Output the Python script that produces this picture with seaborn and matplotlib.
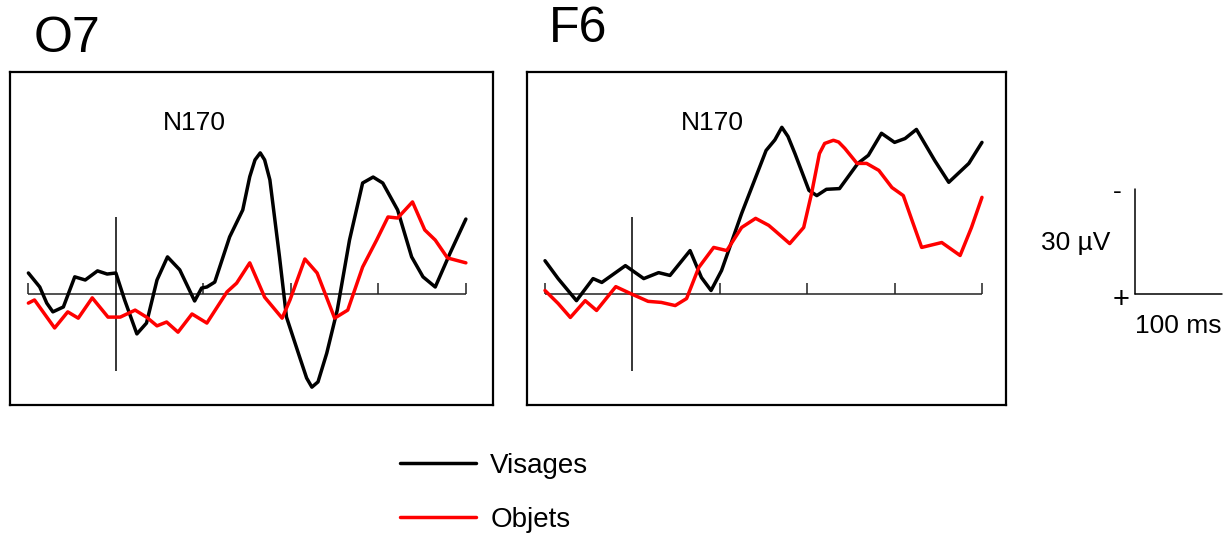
import numpy as np
import pandas as pd
import matplotlib
matplotlib.use("Agg")
import matplotlib.pyplot as plt
import seaborn as sns

# ERP waveforms, values in microvolts (negative plotted upward), time in ms
o7_vis_t = [-100, -87, -79, -72, -60, -47, -35, -21, -10, 0, 10, 24, 35, 47, 59, 73, 90, 98, 104,
            113, 130, 145, 153, 159, 165, 170, 176, 187, 195, 210, 218, 224, 231, 241, 253, 267,
            282, 294, 305, 322, 338, 351, 365, 382, 400]
o7_vis_v = [-6.0, -2.0, 2.6, 5.1, 3.7, -4.9, -4.0, -6.6, -5.7, -6.0, 1.7, 11.4, 8.3, -4.0, -10.6,
            -6.9, 2.0, -1.7, -2.0, -3.4, -16.3, -24.0, -33.5, -38.3, -40.3, -38.3, -32.6, -10.6,
            6.6, 18.0, 24.0, 26.6, 25.1, 16.9, 4.6, -15.4, -31.7, -33.4, -31.7, -24.0, -10.6,
            -4.9, -2.0, -11.7, -21.4]

o7_obj_t = [-100, -93, -70, -55, -43, -27, -9, 5, 22, 35, 47, 58, 71, 87, 104, 127, 138, 153,
            170, 190, 199, 216, 230, 250, 265, 282, 298, 311, 322, 339, 353, 365, 379, 400]
o7_obj_v = [2.6, 1.7, 9.7, 5.1, 6.9, 1.1, 6.6, 6.6, 4.6, 6.6, 9.1, 8.0, 10.9, 5.7, 8.3, -0.6,
            -3.1, -8.9, 0.9, 6.9, 1.7, -10.0, -6.0, 6.9, 4.6, -7.7, -15.4, -22.0, -21.7, -26.3,
            -18.3, -15.4, -10.3, -8.9]

f6_vis_t = [-100, -85, -64, -45, -35, -8, 13, 30, 43, 66, 79, 90, 102, 125, 153, 163, 171, 178,
            186, 202, 211, 222, 237, 258, 270, 285, 300, 312, 325, 346, 362, 385, 400]
f6_vis_v = [-9.5, -4.4, 1.9, -4.4, -3.3, -8.1, -4.4, -6.1, -5.3, -12.4, -4.7, -1.0, -6.7, -23.0,
            -41.0, -44.0, -47.6, -45.0, -40.1, -29.6, -28.1, -29.9, -30.1, -37.3, -39.6, -45.9,
            -43.3, -44.4, -47.0, -38.1, -31.9, -37.3, -43.3]

f6_obj_t = [-100, -85, -71, -54, -41, -19, -1, 18, 33, 49, 62, 76, 93, 108, 125, 141, 156, 163,
            180, 196, 205, 214, 220, 230, 236, 243, 257, 268, 282, 297, 310, 320, 331, 354, 375,
            388, 400]
f6_obj_v = [-1.0, 2.7, 6.7, 1.9, 4.7, -2.1, 0.0, 2.1, 2.4, 3.3, 1.3, -7.6, -13.3, -12.4, -19.0,
            -21.6, -19.6, -18.1, -14.4, -19.0, -28.7, -40.1, -43.0, -43.9, -43.4, -41.6, -37.3,
            -37.3, -35.3, -30.4, -28.1, -21.0, -13.3, -14.7, -11.0, -19.0, -27.6]

conditions = ["Visages", "Objets"]
colors = {"Visages": "black", "Objets": "#ff0000"}
tick_times = [-100, 100, 200, 300, 400]
scale_ms = 100
scale_uv = 30


def make_df(vis_t, vis_v, obj_t, obj_v):
    a = pd.DataFrame({"time": vis_t, "uv": vis_v, "cond": "Visages"})
    b = pd.DataFrame({"time": obj_t, "uv": obj_v, "cond": "Objets"})
    return pd.concat([a, b], ignore_index=True)


def draw_panel(ax, df, xlim, n170_x):
    # baseline with ticks and stimulus onset
    ax.hlines(0, tick_times[0], tick_times[-1], color="#222222", lw=1.1)
    ax.vlines(tick_times, 0, -3, color="#222222", lw=1.1)
    ax.vlines(0, -22, 22, color="black", lw=1.1)
    sns.lineplot(data=df, x="time", y="uv", hue="cond", hue_order=conditions,
                 palette=colors, linewidth=2.5, ax=ax, sort=False, legend=True,
                 solid_joinstyle="round", solid_capstyle="round")
    ax.set_xlim(*xlim)
    ax.set_ylim(31.7, -63.4)
    ax.set_xticks([])
    ax.set_yticks([])
    ax.set_xlabel("")
    ax.set_ylabel("")
    for s in ax.spines.values():
        s.set_visible(True)
        s.set_color("black")
        s.set_linewidth(1.6)
    ax.text(n170_x, 0.847, "N170", transform=ax.transAxes,
            fontsize=19, ha="center", va="center")


sns.set_theme(style="white")
plt.rcParams["font.family"] = ["Liberation Sans", "DejaVu Sans"]
plt.rcParams["text.color"] = "black"

fig = plt.figure(figsize=(12.31, 5.33), dpi=100)
ax1 = fig.add_axes([10 / 1231, 128 / 533, 483 / 1231, 333 / 533])
ax2 = fig.add_axes([527 / 1231, 128 / 533, 479 / 1231, 333 / 533])

draw_panel(ax1, make_df(o7_vis_t, o7_vis_v, o7_obj_t, o7_obj_v), (-121, 431), 0.381)
draw_panel(ax2, make_df(f6_vis_t, f6_vis_v, f6_obj_t, f6_obj_v), (-120.6, 427.5), 0.386)
fig.text(34 / 1231, 1 - 39 / 533, "O7", fontsize=36, ha="left", va="center")
fig.text(549 / 1231, 1 - 29 / 533, "F6", fontsize=36, ha="left", va="center")

handles, labels = ax1.get_legend_handles_labels()
ax1.get_legend().remove()
ax2.get_legend().remove()
fig.legend(handles, labels, loc="upper left", bbox_to_anchor=(400 / 1231, 1 - 453 / 533),
           frameon=False, fontsize=20, handlelength=2.75, handletextpad=0.5,
           labelspacing=1.0, borderpad=0, borderaxespad=0)

# scale bar
ax3 = fig.add_axes([1020 / 1231, 128 / 533, 211 / 1231, 333 / 533])
ax3.set_xlim(-131.6, 109.8)
ax3.set_ylim(31.7, -63.4)
ax3.axis("off")
ax3.plot([0, 0], [0, -scale_uv], color="black", lw=1.1)
ax3.plot([0, scale_ms], [0, 0], color="black", lw=1.1)
ax3.text(-20, -scale_uv + 1.0, "-", fontsize=19, ha="center", va="center")
ax3.text(-16, 1.6, "+", fontsize=21, ha="center", va="center")
ax3.text(-28, -14.5, "30 µV", fontsize=19, ha="right", va="center")
ax3.text(scale_ms / 2, 9, "100 ms", fontsize=19, ha="center", va="center")

fig.savefig("out.png", dpi=100)
